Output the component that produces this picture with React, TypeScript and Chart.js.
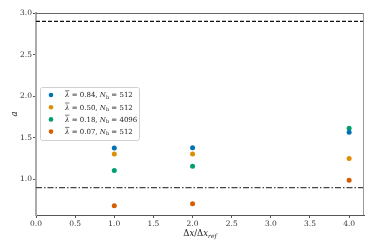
import React, { useEffect, useRef } from "react";
import { Chart, registerables } from "chart.js";
Chart.register(...registerables);

const xValues = [1, 2, 4];
const series1 = [1.377, 1.38, 1.566];
const series2 = [1.305, 1.305, 1.25];
const series3 = [1.104, 1.157, 1.614];
const series4 = [0.68, 0.706, 0.988];
const lambdaLabels = ["0.84", "0.50", "0.18", "0.07"];
const nbLabels = ["512", "512", "4096", "512"];
const colors = ["#0173b2", "#de8f05", "#029e73", "#d55e00"];
const upperRef = 2.9;
const lowerRef = 0.9;
const xTicks = [0, 0.5, 1, 1.5, 2, 2.5, 3, 3.5, 4];
const yTicks = [1.0, 1.5, 2.0, 2.5, 3.0];
const xMin = 0, xMax = 4.19, yMin = 0.57, yMax = 3.0;

const SERIF = '"DejaVu Serif", "Liberation Serif", serif';

const overlay = {
  id: "overlay",
  afterDatasetsDraw(chart: any) {
    const ctx = chart.ctx;
    const a = chart.chartArea;
    ctx.save();
    // spines
    ctx.lineWidth = 1;
    ctx.strokeStyle = "#666";
    ctx.beginPath(); ctx.moveTo(a.left, a.top + 0.5); ctx.lineTo(a.right, a.top + 0.5); ctx.stroke();
    ctx.strokeStyle = "#999";
    ctx.beginPath(); ctx.moveTo(a.right - 0.5, a.top); ctx.lineTo(a.right - 0.5, a.bottom); ctx.stroke();

    // legend
    const lx = 40, ly = 87, lw = 99, lh = 53;
    ctx.fillStyle = "rgba(255,255,255,0.85)";
    ctx.strokeStyle = "#d0d0d0";
    ctx.lineWidth = 1;
    ctx.beginPath();
    (ctx as any).roundRect(lx + 0.5, ly + 0.5, lw, lh, 2);
    ctx.fill(); ctx.stroke();
    const fs = 7;
    for (let i = 0; i < 4; i++) {
      const cy = 95 + i * 12.2;
      ctx.fillStyle = colors[i];
      ctx.beginPath(); ctx.arc(51, cy, 2.3, 0, Math.PI * 2); ctx.fill();
      ctx.fillStyle = "#222";
      ctx.textBaseline = "middle";
      ctx.textAlign = "left";
      let x = 65;
      ctx.font = `italic ${fs}px ${SERIF}`;
      ctx.fillText("λ", x, cy + 0.5);
      const lwid = ctx.measureText("λ").width;
      ctx.strokeStyle = "#222"; ctx.lineWidth = 0.6;
      ctx.beginPath(); ctx.moveTo(x, cy - 4.2); ctx.lineTo(x + lwid, cy - 4.2); ctx.stroke();
      x += lwid;
      ctx.font = `${fs}px ${SERIF}`;
      const t1 = ` = ${lambdaLabels[i]}, `;
      ctx.fillText(t1, x, cy + 0.5); x += ctx.measureText(t1).width;
      ctx.font = `italic ${fs}px ${SERIF}`;
      ctx.fillText("N", x, cy + 0.5); x += ctx.measureText("N").width;
      ctx.font = `5px ${SERIF}`;
      ctx.fillText("b", x, cy + 2.3); x += ctx.measureText("b").width;
      ctx.font = `${fs}px ${SERIF}`;
      ctx.fillText(` = ${nbLabels[i]}`, x, cy + 0.5);
    }

    // x title
    ctx.fillStyle = "#222";
    ctx.textBaseline = "alphabetic";
    const parts: [string, string, number][] = [
      ["Δ", `8.5px ${SERIF}`, 0], ["x", `italic 8.5px ${SERIF}`, 0], ["/", `8.5px ${SERIF}`, 0],
      ["Δ", `8.5px ${SERIF}`, 0], ["x", `italic 8.5px ${SERIF}`, 0], ["ref", `italic 6px ${SERIF}`, 2],
    ];
    let total = 0;
    for (const p of parts) { ctx.font = p[1]; total += ctx.measureText(p[0]).width; }
    let x = (a.left + a.right) / 2 - total / 2;
    for (const p of parts) {
      ctx.font = p[1];
      ctx.fillText(p[0], x, 236 + p[2]);
      x += ctx.measureText(p[0]).width;
    }
    // y title
    ctx.translate(15, 114);
    ctx.rotate(-Math.PI / 2);
    ctx.font = `italic 8.5px ${SERIF}`;
    ctx.textAlign = "center";
    ctx.textBaseline = "middle";
    ctx.fillText("a", 0, 0);
    ctx.restore();
  },
};

export default function App() {
  const ref = useRef<HTMLCanvasElement>(null);
  useEffect(() => {
    document.body.style.margin = "0";
    const mk = (ys: number[]) => xValues.map((x, i) => ({ x, y: ys[i] }));
    const chart = new Chart(ref.current!, {
      type: "scatter",
      data: {
        datasets: [
          { type: "line", data: [{ x: xMin, y: upperRef }, { x: xMax, y: upperRef }], borderColor: "#111", borderWidth: 1.2, borderDash: [4, 2], pointRadius: 0 } as any,
          { type: "line", data: [{ x: xMin, y: lowerRef }, { x: xMax, y: lowerRef }], borderColor: "#444", borderWidth: 1.2, borderDash: [6, 2, 1.5, 2], pointRadius: 0 } as any,
          { data: mk(series1), backgroundColor: colors[0], borderWidth: 0, pointRadius: 2.5 },
          { data: mk(series2), backgroundColor: colors[1], borderWidth: 0, pointRadius: 2.5 },
          { data: mk(series3), backgroundColor: colors[2], borderWidth: 0, pointRadius: 2.5 },
          { data: mk(series4), backgroundColor: colors[3], borderWidth: 0, pointRadius: 2.5 },
        ],
      },
      options: {
        animation: false,
        responsive: false,
        layout: { padding: { top: 13, right: 10, left: 0, bottom: 0 } },
        plugins: { legend: { display: false }, tooltip: { enabled: false } },
        scales: {
          x: {
            type: "linear", min: xMin, max: xMax,
            afterBuildTicks: (s: any) => { s.ticks = xTicks.map((v) => ({ value: v })); },
            afterFit: (s: any) => { s.height = 34; },
            grid: { drawOnChartArea: false, drawTicks: true, tickLength: 3, color: "#555" },
            border: { color: "#555", width: 1 },
            ticks: { font: { family: SERIF, size: 7.5 }, color: "#333", padding: 2, maxRotation: 0, callback: (v: any) => Number(v).toFixed(1) },
          },
          y: {
            type: "linear", min: yMin, max: yMax,
            afterBuildTicks: (s: any) => { s.ticks = yTicks.map((v) => ({ value: v })); },
            afterFit: (s: any) => { s.width = 36; },
            grid: { drawOnChartArea: false, drawTicks: true, tickLength: 3, color: "#555" },
            border: { color: "#aaa", width: 2 },
            ticks: { font: { family: SERIF, size: 7.5 }, color: "#333", padding: 1, callback: (v: any) => Number(v).toFixed(1) },
          },
        },
      },
      plugins: [overlay],
    });
    return () => chart.destroy();
  }, []);
  return (
    <div style={{ width: 374, height: 249 }}>
      <canvas ref={ref} width={374} height={249} style={{ width: 374, height: 249, display: "block" }} />
    </div>
  );
}
